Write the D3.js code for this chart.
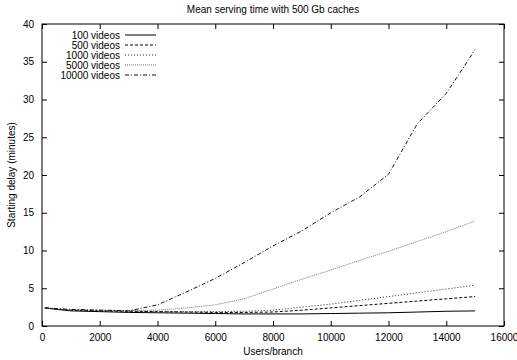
<!DOCTYPE html>
<html>
<head>
<meta charset="utf-8">
<script src="https://cdn.jsdelivr.net/npm/d3@7"></script>
<style>
  body { margin: 0; background: #fff; }
  text { font-family: "Liberation Sans", Arial, sans-serif; font-size: 10px; fill: #000; }
</style>
</head>
<body>
<svg id="chart" width="517" height="360"></svg>
<script>
// Users per branch (x values)
const users = [100, 500, 1000, 2000, 3000, 4000, 5000, 6000, 7000, 8000, 9000, 10000, 11000, 12000, 13000, 14000, 15000];

// Mean starting delay in minutes, one array per catalogue size
const delay100 = [2.4, 2.2, 2.0, 1.9, 1.8, 1.75, 1.7, 1.65, 1.6, 1.6, 1.6, 1.65, 1.7, 1.75, 1.85, 1.95, 2.0];
const delay500 = [2.4, 2.25, 2.1, 2.0, 1.95, 1.9, 1.85, 1.8, 1.8, 1.85, 2.1, 2.4, 2.7, 3.0, 3.3, 3.6, 3.9];
const delay1000 = [2.4, 2.25, 2.1, 2.05, 2.0, 1.95, 1.9, 1.9, 1.95, 2.1, 2.5, 2.9, 3.4, 3.9, 4.4, 4.9, 5.4];
const delay5000 = [2.4, 2.25, 2.15, 2.1, 2.05, 2.1, 2.4, 2.8, 3.6, 4.9, 6.2, 7.4, 8.7, 9.9, 11.2, 12.5, 13.9];
const delay10000 = [2.4, 2.3, 2.2, 2.1, 2.0, 2.8, 4.5, 6.3, 8.4, 10.6, 12.6, 15.0, 17.1, 20.1, 26.8, 30.8, 36.6];

const seriesNames = ["100 videos", "500 videos", "1000 videos", "5000 videos", "10000 videos"];
const seriesValues = [delay100, delay500, delay1000, delay5000, delay10000];

const xTicks = [0, 2000, 4000, 6000, 8000, 10000, 12000, 14000, 16000];
const yTicks = [0, 5, 10, 15, 20, 25, 30, 35, 40];

// line looks (gnuplot-ish)
const styles = [
  { stroke: "#000", dash: null, width: 1 },
  { stroke: "#000", dash: "3,2", width: 1 },
  { stroke: "#222", dash: "1,2", width: 1 },
  { stroke: "#777", dash: "1,1", width: 1 },
  { stroke: "#111", dash: "4,2,1,2", width: 1 }
];

const margin = { top: 24, right: 13, bottom: 34, left: 42 };
const width = 517 - margin.left - margin.right;
const height = 360 - margin.top - margin.bottom;

const svg = d3.select("#chart");
const g = svg.append("g").attr("transform", `translate(${margin.left},${margin.top})`);

const x = d3.scaleLinear().domain([0, 16000]).range([0, width]);
const y = d3.scaleLinear().domain([0, 40]).range([height, 0]);

// bottom & left axes with inward ticks
const tickLen = 5;
g.append("g")
  .attr("transform", `translate(0,${height})`)
  .call(d3.axisBottom(x).tickValues(xTicks).tickSize(-tickLen).tickPadding(8).tickFormat(d3.format("d")))
  .call(a => a.select(".domain").remove());
g.append("g")
  .call(d3.axisLeft(y).tickValues(yTicks).tickSize(-tickLen).tickPadding(8))
  .call(a => a.select(".domain").remove());
// mirrored ticks on top & right
g.append("g")
  .call(d3.axisTop(x).tickValues(xTicks).tickSize(-tickLen).tickFormat(""))
  .call(a => a.select(".domain").remove());
g.append("g")
  .attr("transform", `translate(${width},0)`)
  .call(d3.axisRight(y).tickValues(yTicks).tickSize(-tickLen).tickFormat(""))
  .call(a => a.select(".domain").remove());

g.selectAll(".tick line").attr("stroke", "#000");
g.selectAll(".tick text").style("font-size", "10px").style("font-family", "Liberation Sans, Arial, sans-serif");

g.append("rect")
  .attr("width", width).attr("height", height)
  .attr("fill", "none").attr("stroke", "#000").attr("stroke-width", 1);

const line = d3.line()
  .x((d, i) => x(users[i]))
  .y(d => y(d));

seriesValues.forEach((vals, k) => {
  g.append("path")
    .datum(vals)
    .attr("d", line)
    .attr("fill", "none")
    .attr("stroke", styles[k].stroke)
    .attr("stroke-width", styles[k].width)
    .attr("stroke-dasharray", styles[k].dash);
});

// legend
const legend = g.append("g").attr("transform", "translate(78,11)");
seriesNames.forEach((name, k) => {
  const row = legend.append("g").attr("transform", `translate(0,${k * 10})`);
  row.append("text").attr("x", 0).attr("y", 3.5).attr("text-anchor", "end").text(name);
  row.append("line")
    .attr("x1", 5).attr("x2", 36).attr("y1", 0).attr("y2", 0)
    .attr("stroke", styles[k].stroke)
    .attr("stroke-width", styles[k].width)
    .attr("stroke-dasharray", styles[k].dash);
});

// title & axis labels
svg.append("text")
  .attr("x", margin.left + width / 2).attr("y", 13)
  .attr("text-anchor", "middle")
  .text("Mean serving time with 500 Gb caches");
svg.append("text")
  .attr("x", margin.left + width / 2).attr("y", 355)
  .attr("text-anchor", "middle")
  .text("Users/branch");
svg.append("text")
  .attr("transform", `translate(15,${margin.top + height / 2}) rotate(-90)`)
  .attr("text-anchor", "middle")
  .text("Starting delay (minutes)");
</script>
</body>
</html>
